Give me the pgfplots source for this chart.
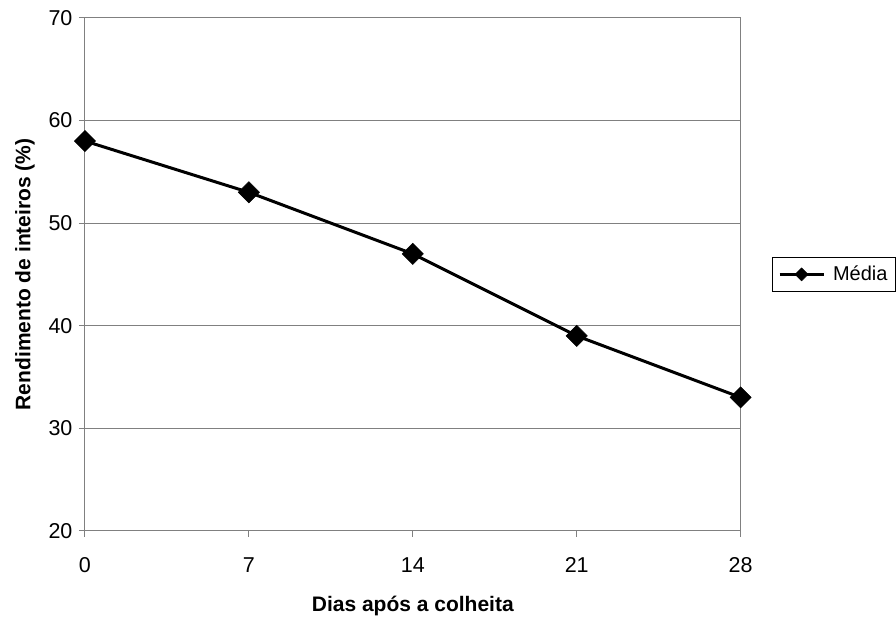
\documentclass[border=0pt]{standalone}
\usepackage{pgfplots}
\pgfplotsset{compat=1.18}
\usepackage{fontspec}
\setmainfont{Liberation Sans}
\definecolor{axisgray}{RGB}{128,128,128}
\begin{document}
\begin{tikzpicture}
\path (0pt,0pt) rectangle (896pt,614pt);
\begin{axis}[
  at={(85pt,83pt)}, anchor=south west,
  scale only axis,
  width=656pt, height=513pt,
  xmin=0, xmax=28, ymin=20, ymax=70,
  xtick={0,7,14,21,28},
  ytick={20,30,40,50,60,70},
  ymajorgrids,
  major grid style={axisgray, line width=1pt},
  axis line style={axisgray, line width=1pt},
  tick style={axisgray, line width=1pt},
  major tick length=6pt,
  tick align=outside,
  xtick pos=bottom, ytick pos=left,
  /pgf/number format/assume math mode=true,
  tick label style={font=\fontsize{21.5}{24}\selectfont},
  xticklabel shift=17pt,
  yticklabel shift=3pt,
  label style={font=\bfseries\fontsize{21}{24}\selectfont},
  xlabel={Dias após a colheita},
  ylabel={Rendimento de inteiros (\%)},
  xlabel shift=17pt,
  ylabel shift=7pt,
  legend style={at={(1,0.5)}, anchor=west, xshift=31pt,
    draw=black, line width=1pt,
    font=\fontsize{20}{23}\selectfont, inner xsep=6pt, inner ysep=7pt,
    /tikz/every odd column/.append style={column sep=6pt},
    /tikz/every even column/.append style={column sep=0pt}},
  legend image code/.code={
    \draw[#1, line width=3pt] (0pt,0pt) -- (44pt,0pt);
    \path[#1, mark size=4.6pt] plot coordinates {(22pt,0pt)};
  },
]
\addplot[black, line width=3pt,
  mark=square*, mark size=7.5pt,
  mark options={rotate=45, solid, fill=black, line width=0.5pt}]
  coordinates {(0,58) (7,53) (14,47) (21,39) (28,33)};
\addlegendentry{Média}
\end{axis}
\end{tikzpicture}
\end{document}
